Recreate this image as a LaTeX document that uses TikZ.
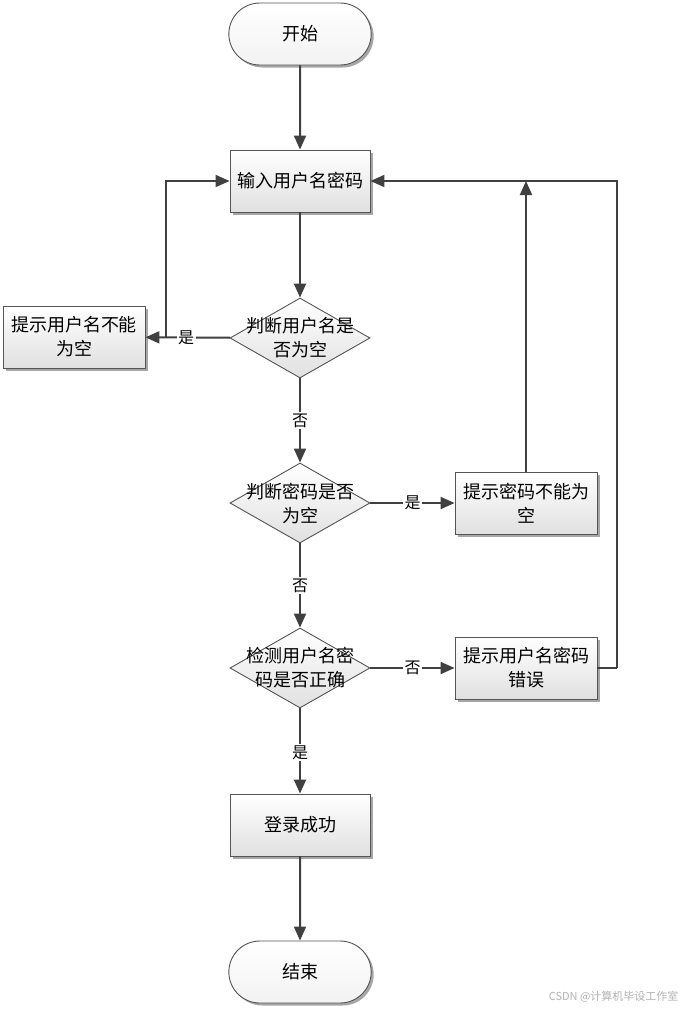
\documentclass[tikz,border=0pt]{standalone}
\usepackage{fontspec}
\setmainfont{Noto Sans CJK SC}
\usepackage{tikz}
\usetikzlibrary{positioning,shapes,shapes.misc,arrows.meta,shadows}

\definecolor{linegray}{HTML}{404040}
\definecolor{edgegray}{HTML}{555555}

\tikzset{
	box/.style={rectangle, draw=edgegray, line width=0.9pt, minimum width=140pt, minimum height=62pt,
		top color=white, bottom color=black!12, align=center, font=\fontsize{18}{24}\selectfont,
		drop shadow={shadow xshift=2.5pt, shadow yshift=-2.5pt, fill=black!35, opacity=1}},
	terminal/.style={box, rounded rectangle, minimum width=149pt, top color=white, bottom color=black!5},
	decision/.style={diamond, draw=edgegray, line width=0.9pt, minimum width=140pt, minimum height=80pt,
		inner sep=0pt, top color=white, bottom color=black!12},
	txt/.style={align=center, font=\fontsize{18}{24}\selectfont},
	flow/.style={draw=linegray, line width=2pt, -{Triangle[length=14pt, width=12pt]}},
	seg/.style={draw=linegray, line width=2pt},
	tag/.style={fill=white, inner sep=1.5pt, font=\fontsize{16}{18}\selectfont}
}

\begin{document}
\begin{tikzpicture}[x=1pt, y=-1pt]
		\useasboundingbox (0,0) rectangle (688,1010);
		\node[terminal] (start) at (300, 34) {开始};
		\node[box] (input) at (300, 181) {输入用户名密码};
		\node[decision, label={[txt]center:{判断用户名是\\否为空}}] (d1) at (300, 338) {};
		\node[box, minimum width=142pt] (nouser) at (74, 337) {提示用户名不能\\为空};
		\node[decision, label={[txt]center:{判断密码是否\\为空}}] (d2) at (300, 503) {};
		\node[box, minimum width=142pt] (nopass) at (526, 503) {提示密码不能为\\空};
		\node[decision, label={[txt]center:{检测用户名密\\码是否正确}}] (d3) at (300, 668) {};
		\node[box, minimum width=142pt] (wrong) at (526, 668) {提示用户名密码\\错误};
		\node[box] (ok) at (300, 825) {登录成功};
		\node[terminal] (stop) at (300, 972) {结束};
		\coordinate (lft) at (166, 338);
		\coordinate (up) at (526, 181);
		\coordinate (rgt) at (617, 668);
		% main line
		\draw[flow] (start) -- (input);
		\draw[flow] (input) -- (d1);
		\draw[flow] (d1) -- node[tag] {否} (d2);
		\draw[flow] (d2) -- node[tag] {否} (d3);
		\draw[flow] (d3) -- node[tag, pos=0.52] {是} (ok);
		\draw[flow] (ok) -- (stop);
		% branches
		\draw[flow] (d1) -- node[tag, pos=0.52] {是} (nouser);
		\draw[flow] (lft) |- (input);
		\draw[flow] (d2) -- node[tag] {是} (nopass);
		\draw[flow] (nopass) -- (up);
		\draw[flow] (d3) -- node[tag] {否} (wrong);
		\draw[seg] (wrong) -- (rgt);
		\draw[flow] (rgt) |- (input);
		\node[text=black!30, font=\fontsize{11}{13}\selectfont, anchor=east] (mark) at (682, 997) {CSDN @计算机毕设工作室};
	\end{tikzpicture}
\end{document}
